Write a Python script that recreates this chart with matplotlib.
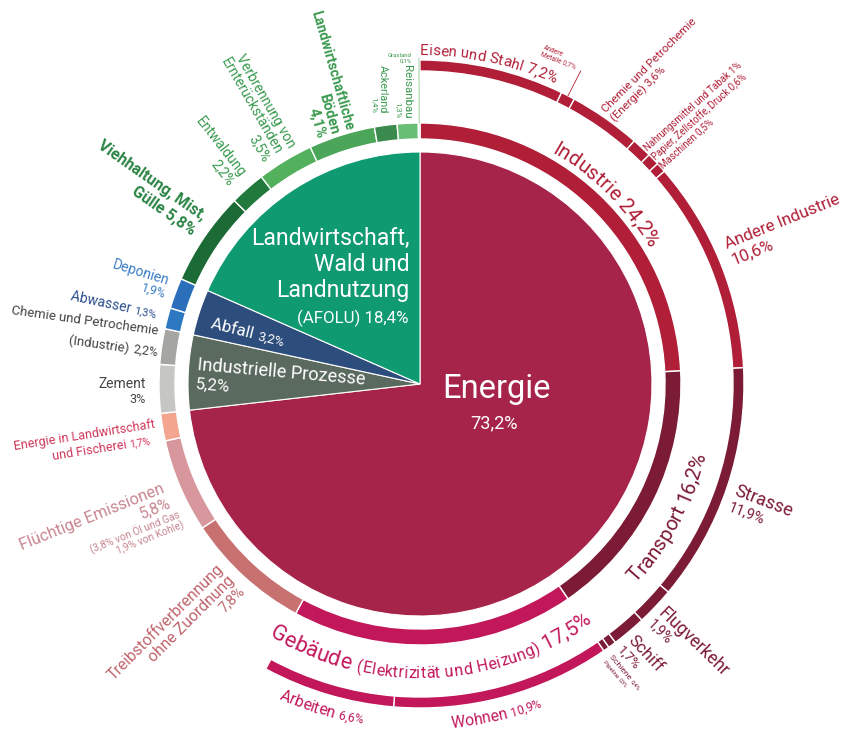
import numpy as np
import matplotlib
matplotlib.use('Agg')
import matplotlib.pyplot as plt
from matplotlib import font_manager
from matplotlib.font_manager import FontProperties
from matplotlib.textpath import TextToPath

# --- data (shares of global greenhouse gas emissions, %) ---
main_labels = ['Energie', 'Industrielle Prozesse', 'Abfall', 'AFOLU']
main_values = [73.2, 5.2, 3.2, 18.4]

ring_labels = ['Industrie', 'Transport', 'Gebäude', 'Treibstoffverbrennung',
               'Flüchtige Emissionen', 'Energie in Landwirtschaft', 'Zement',
               'Chemie (Industrie)', 'Abwasser', 'Deponien', 'Viehhaltung',
               'Entwaldung', 'Ernterückstände', 'Böden', 'Ackerland',
               'Reisanbau', 'Grasland']
ring_values = [24.2, 16.2, 17.5, 7.8, 5.8, 1.7, 3.0, 2.2, 1.3, 1.9, 5.8,
               2.2, 3.5, 4.1, 1.4, 1.3, 0.1]

outer_labels = ['Eisen und Stahl', 'Andere Metalle', 'Chemie (Energie)',
                'Nahrungsmittel', 'Papier', 'Maschinen', 'Andere Industrie',
                'Strasse', 'Flugverkehr', 'Schiff', 'Schiene', 'Pipeline',
                'Wohnen', 'Arbeiten']
outer_values = [7.2, 0.7, 3.6, 1.0, 0.6, 0.5, 10.6, 11.9, 1.9, 1.7, 0.4, 0.3,
                10.9, 6.6]

# --- colours ---
main_colors = ['#a6234a', '#5b6a5f', '#2d4d7c', '#109a72']
ring_colors = ['#b01f37', '#7c1b36', '#c2185b', '#c87171', '#d8979c', '#f3a58f',
               '#c6c6c4', '#a5a5a3', '#2e78c2', '#2b6fbb', '#1c6b36', '#217a3c',
               '#53b05d', '#4ba659', '#3b8b4e', '#68be74', '#a6d9a6']
outer_colors = ['#b01f37'] * 7 + ['#7c1b36'] * 5 + ['#c2185b'] * 2

IND, TRA, GEB = '#b01f37', '#7c1b36', '#c2185b'
GREEN, DGREEN = '#3a9a4f', '#2b8445'
TREIB, FLU, ELW = '#c0656d', '#c8868f', '#d0385a'
GREY, ABW, DEP = '#444444', '#2c4f8f', '#3a7cc6'

W, H = 843, 729
CX, CY = 420, 384

names = {f.name for f in font_manager.fontManager.ttflist}
if 'Liberation Sans Narrow' in names:
    FONT, FS = 'Liberation Sans Narrow', 1.0
else:
    FONT, FS = 'Roboto', 0.87   # wider face: shrink to keep label lengths
plt.rcParams['font.family'] = [FONT, 'DejaVu Sans']

V = {}
for labs, vals in [(main_labels, main_values), (ring_labels, ring_values),
                   (outer_labels, outer_values)]:
    V.update(zip(labs, vals))


def pct(name):
    return f'{V[name]:g}'.replace('.', ',') + '%'


fig = plt.figure(figsize=(W / 100, H / 100), dpi=100)
ax = fig.add_axes([0, 0, 1, 1])

ax.pie(main_values, colors=main_colors, radius=232, startangle=90,
       counterclock=False, wedgeprops=dict(edgecolor='white', linewidth=0.8))
ax.pie(ring_values, colors=ring_colors, radius=261, startangle=90,
       counterclock=False, wedgeprops=dict(width=16, edgecolor='white', linewidth=1))
rest = 100 - sum(outer_values)
wo, _ = ax.pie(outer_values + [rest], colors=outer_colors + ['none'], radius=324,
               startangle=90, counterclock=False,
               wedgeprops=dict(width=11, edgecolor='white', linewidth=1))
wo[-1].set_visible(False)

ax.set_xlim(-CX, W - CX)
ax.set_ylim(CY - H, CY)
ax.set_aspect('equal')
ax.axis('off')

_t2p = TextToPath()


def tw(s, size, weight='normal'):
    fp = FontProperties(family=FONT, size=size, weight=weight)
    w0 = _t2p.get_text_width_height_descent('HH', fp, ismath=False)[0]
    w1 = _t2p.get_text_width_height_descent('H' + s + 'H', fp, ismath=False)[0]
    return (w1 - w0) * 100 / 72


def P(x, y):
    return x - CX, CY - y


def line(x, y, parts, rot, color, ha='left', weight='normal'):
    X, Y = P(x, y)
    parts = [(s, sz * FS) for s, sz in parts]
    ws = [tw(s, sz, weight) for s, sz in parts]
    tot = sum(ws)
    t = np.radians(rot)
    ux, uy = np.cos(t), np.sin(t)
    pos = {'left': 0, 'right': -tot, 'center': -tot / 2}[ha]
    for (s, sz), w in zip(parts, ws):
        ax.text(X + ux * pos, Y + uy * pos, s, fontsize=sz, color=color,
                rotation=rot, rotation_mode='anchor', ha='left', va='baseline',
                fontweight=weight)
        pos += w


def block(x, y, lines, rot, color, ha='left', gap=14, weight='normal'):
    # stacked lines of a rotated label, next line offset perpendicular
    t = np.radians(rot)
    for k, parts in enumerate(lines):
        line(x + k * gap * np.sin(t), y + k * gap * np.cos(t), parts, rot,
             color, ha, weight)


def arc_text(parts, r, a_mid, color, inward=False, track=0.0, weight='normal'):
    chars = [(c, sz * FS) for s, sz in parts for c in s]
    advs = [tw(c, sz, weight) + track for c, sz in chars]
    span = np.degrees(sum(advs) / r)
    sign = -1 if inward else 1
    a = a_mid - sign * span / 2
    for (c, sz), w in zip(chars, advs):
        ac = a + sign * np.degrees(w / 2 / r)
        x, y = r * np.sin(np.radians(ac)), r * np.cos(np.radians(ac))
        rot = 180 - ac if inward else -ac
        ax.text(x, y, c, fontsize=sz, color=color, rotation=rot,
                rotation_mode='anchor', ha='center', va='baseline',
                fontweight=weight)
        a += sign * np.degrees(w / r)


def leader(values, idx, r0, r1, color):
    a = np.radians(360 * (sum(values[:idx]) + values[idx] / 2) / 100)
    ax.plot([r0 * np.sin(a), r1 * np.sin(a)], [r0 * np.cos(a), r1 * np.cos(a)],
            color=color, lw=0.6)


# --- centre labels ---
line(496, 398, [('Energie', 27)], 0, 'white', 'center')
line(494, 428, [(pct('Energie'), 15)], 0, 'white', 'center')
block(409, 245, [[('Landwirtschaft,', 19)], [('Wald und', 19)],
                 [('Landnutzung', 19)]], 0, 'white', 'right', gap=26)
line(409, 323, [('(AFOLU) ' + pct('AFOLU'), 14)], 0, 'white', 'right')
line(210, 328, [('Abfall ', 14), (pct('Abfall'), 11)], -14, 'white')
line(197, 370, [('Industrielle Prozesse', 15)], -5, 'white')
line(195, 389, [(pct('Industrielle Prozesse'), 14)], -5, 'white')

# --- curved group labels ---
arc_text([('Industrie ' + pct('Industrie'), 17)], 266, 44.5, IND)
arc_text([('Transport ' + pct('Transport'), 17)], 294, 118.3, TRA, inward=True)
arc_text([('Gebäude ', 18), ('(Elektrizität und Heizung) ', 13.5),
          (pct('Gebäude'), 17)], 294, 177.5, GEB, inward=True, track=0.3)
arc_text([('Eisen und Stahl ' + pct('Eisen und Stahl'), 12.5)], 329, 12, IND)
arc_text([('Arbeiten ', 13), (pct('Arbeiten'), 10)], 345, 197, GEB, inward=True)
arc_text([('Wohnen ', 13), (pct('Wohnen'), 10)], 345, 167, GEB, inward=True)

# --- industry details ---
block(543, 49, [[('Andere', 5.5)], [('Metalle ' + pct('Andere Metalle'), 5.5)]],
      -21, IND, gap=7)
leader(outer_values, 1, 324, 352, IND)
block(606, 113, [[('Chemie und Petrochemie', 9.5)],
                 [('(Energie) ' + pct('Chemie (Energie)'), 9.5)]], 45, IND, gap=13)
block(648, 152, [[('Nahrungsmittel und Tabak ' + pct('Nahrungsmittel'), 8)],
                 [('Papier, Zellstoffe, Druck ' + pct('Papier'), 8)],
                 [('Maschinen ' + pct('Maschinen'), 8)]], 42, IND, gap=11)
block(727, 249, [[('Andere Industrie', 14)], [(pct('Andere Industrie'), 14)]],
      22, IND, gap=17)

# --- transport details ---
block(733, 495, [[('Strasse', 15)], [(pct('Strasse'), 12)]], -21, TRA, gap=16)
block(657, 614, [[('Flugverkehr', 14.5)], [(pct('Flugverkehr'), 11.5)]], -44, TRA, gap=15)
block(627, 641, [[('Schiff', 14)], [(pct('Schiff'), 11)]], -47, TRA, gap=14)
block(609, 657, [[('Schiene ', 7), (pct('Schiene'), 5)],
                 [('Pipeline ', 5), (pct('Pipeline'), 4.5)]], -50, TRA, gap=8)

# --- other energy ---
block(224, 571, [[('Treibstoffverbrennung', 13)], [('ohne Zuordnung', 13)],
                 [(pct('Treibstoffverbrennung'), 12)]], 45, TREIB, 'right', gap=15)
block(166, 492, [[('Flüchtige Emissionen', 13.5)],
                 [(pct('Flüchtige Emissionen'), 13)]], 22, FLU, 'right', gap=16)
block(181, 518, [[('(3,8% von Öl und Gas', 8.5)], [('1,9% von Kohle)', 8.5)]],
      22, FLU, 'right', gap=10)
line(156, 428, [('Energie in Landwirtschaft', 10.5)], 9, ELW, 'right')
line(151, 444, [('und Fischerei ', 10.5), (pct('Energie in Landwirtschaft'), 8.5)],
     9, ELW, 'right')

# --- industrial processes / waste ---
block(146, 388, [[('Zement', 11.5)], [(pct('Zement'), 10.5)]], 0, GREY, 'right', gap=15)
line(158, 335, [('Chemie und Petrochemie', 11)], -8, GREY, 'right')
line(157, 356, [('(Industrie) ', 11), (pct('Chemie (Industrie)'), 10)], -8, GREY, 'right')
line(155, 318, [('Abwasser ', 11.5), (pct('Abwasser'), 9)], -12, ABW, 'right')
block(168, 285, [[('Deponien', 11.5)], [(pct('Deponien'), 10)]], -17, DEP, 'right', gap=14)

# --- AFOLU ---
block(201, 221, [[('Viehhaltung, Mist,', 13)], [('Gülle ' + pct('Viehhaltung'), 13)]],
      -35, DGREEN, 'right', gap=18, weight='bold')
block(240, 178, [[('Entwaldung', 11.5)], [(pct('Entwaldung'), 11.5)]],
      -52, GREEN, 'right', gap=14.5)
block(288, 148, [[('Verbrennung von', 11.5)], [('Ernterückständen', 11.5)],
                 [(pct('Ernterückstände'), 11.5)]], -60, GREEN, 'right', gap=14.5)
block(345, 131, [[('Landwirtschaftliche', 11.5)], [('Böden', 12)], [(pct('Böden'), 12)]],
      -74, GREEN, 'right', gap=14.5, weight='bold')
block(380, 113, [[('Ackerland', 9)], [(pct('Ackerland'), 6.5)]], -90, GREEN, 'right', gap=8)
block(404, 118, [[('Reisanbau', 9.5)], [(pct('Reisanbau'), 6.5)]], -90, GREEN, 'right', gap=8)
block(412, 57, [[('Grasland', 5)], [(pct('Grasland'), 5)]], 0, GREEN, 'right', gap=6)
leader(ring_values, len(ring_values) - 1, 261, 326, '#8cc98c')

fig.savefig('out.png', dpi=100, facecolor='white')
